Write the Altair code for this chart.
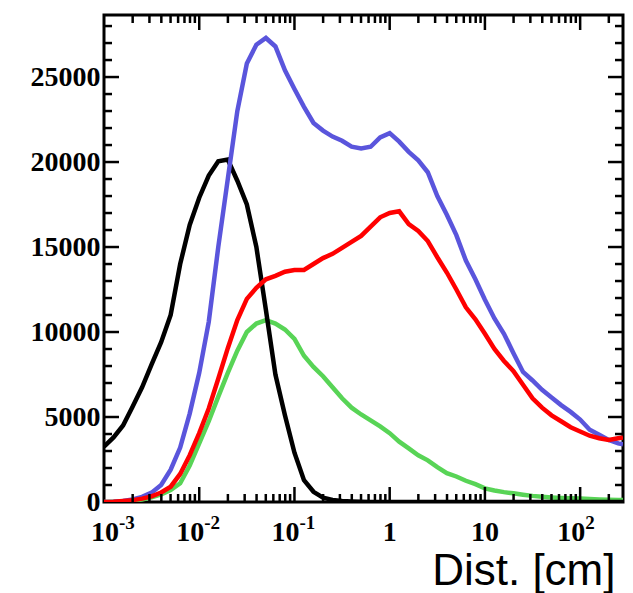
import altair as alt
import pandas as pd

# Histogram bin positions (log10 of distance in cm) and bin contents per sample
log_dist = [
    -3.0, -2.9, -2.8, -2.7, -2.6, -2.5, -2.4, -2.3, -2.2, -2.1,
    -2.0, -1.9, -1.8, -1.7, -1.6, -1.5, -1.4, -1.3, -1.2, -1.1,
    -1.0, -0.9, -0.8, -0.7, -0.6, -0.5, -0.4, -0.3, -0.2, -0.1,
    0.0, 0.1, 0.2, 0.3, 0.4, 0.5, 0.6, 0.7, 0.8, 0.9,
    1.0, 1.1, 1.2, 1.3, 1.4, 1.5, 1.6, 1.7, 1.8, 1.9,
    2.0, 2.1, 2.2, 2.3, 2.4, 2.45,
]

black_counts = [
    3250, 3800, 4500, 5600, 6750, 8100, 9400, 11000, 14000, 16300,
    17900, 19200, 20050, 20150, 18900, 17500, 15000, 11300, 7500, 5100,
    2900, 1280, 600, 250, 120, 60, 30, 10, 0, 0,
    0, 0, 0, 0, 0, 0, 0, 0, 0, 0,
    0, 0, 0, 0, 0, 0, 0, 0, 0, 0,
    0, 0, 0, 0, 0, 0,
]

blue_counts = [
    0, 20, 60, 150, 300, 550, 1000, 1900, 3200, 5200,
    7600, 10600, 15000, 19000, 23000, 25800, 26900, 27300, 26800, 25400,
    24300, 23250, 22300, 21850, 21500, 21250, 20900, 20800, 20900, 21450,
    21700, 21200, 20600, 20100, 19400, 18000, 16900, 15700, 14200, 13100,
    11900, 10800, 9900, 8750, 7650, 7150, 6600, 6150, 5700, 5300,
    4850, 4250, 3950, 3650, 3450, 3400,
]

red_counts = [
    0, 20, 60, 110, 200, 330, 560, 900, 1650, 2750,
    4050, 5500, 7250, 9050, 10700, 11950, 12600, 13100, 13300, 13550,
    13650, 13650, 14000, 14350, 14600, 14950, 15300, 15650, 16200, 16750,
    17000, 17100, 16350, 15950, 15350, 14400, 13500, 12500, 11450, 10750,
    9900, 9000, 8300, 7700, 6900, 6100, 5550, 5100, 4750, 4400,
    4150, 3900, 3750, 3650, 3750, 3800,
]

green_counts = [
    0, 10, 30, 70, 150, 280, 450, 700, 1100, 2150,
    3450, 4750, 6200, 7600, 8900, 10000, 10500, 10700, 10500, 10150,
    9600, 8600, 7950, 7400, 6750, 6100, 5550, 5150, 4800, 4450,
    4050, 3550, 3150, 2750, 2450, 2050, 1700, 1500, 1250, 1050,
    800, 680, 580, 510, 430, 360, 310, 270, 240, 220,
    200, 170, 150, 130, 120, 115,
]

series = [
    ("green", green_counts, "#58d456"),
    ("black", black_counts, "#000000"),
    ("blue", blue_counts, "#5a55dc"),
    ("red", red_counts, "#ff0000"),
]

# Axis tick labels
y_label_values = [0, 5000, 10000, 15000, 20000, 25000]
x_label_values = [0.001, 0.01, 0.1, 1, 10, 100]
x_label_base = ["10", "10", "10", "1", "10", "10"]
x_label_exp = ["-3", "-2", "-1", "", "", "2"]

rows = []
for name, counts, _ in series:
    for lg, c in zip(log_dist, counts):
        rows.append({"dist": 10 ** lg, "count": c, "series": name})
df = pd.DataFrame(rows)

W, H = 519, 487
X_MAX = 10 ** 2.45
xscale = alt.Scale(type="log", domain=[1e-3, X_MAX], nice=False)
yscale = alt.Scale(domain=[0, 28650], nice=False, zero=False)

SERIF = "Liberation Serif"
LABEL_SIZE = 28
EXP_SIZE = 19

# Shared axis definitions (identical in every layer so they merge cleanly)
yaxis = alt.Axis(
    values=y_label_values, format="d", labelFont=SERIF, labelFontWeight="bold",
    labelFontSize=LABEL_SIZE, labelColor="black", labelPadding=4, ticks=False,
    domain=False, grid=False, title=None, labelFlush=False, labelOverlap=False,
)
xaxis = alt.Axis(
    labels=False, ticks=False, domain=False, grid=False, title="Dist. [cm]",
    titleFont="Liberation Sans", titleFontSize=44, titleFontWeight="normal",
    titleColor="black", titleAnchor="end", titleAlign="right",
    titleX=511, titleY=82, titleBaseline="alphabetic",
)

layers = []
for name, _, color in series:
    layers.append(
        alt.Chart(df).transform_filter(alt.datum.series == name)
        .mark_line(color=color, strokeWidth=4.5, clip=True)
        .encode(
            x=alt.X("dist:Q", scale=xscale, axis=xaxis),
            y=alt.Y("count:Q", scale=yscale, axis=yaxis),
        )
    )

# Inward-pointing ticks on all four sides of the frame
y_ticks = pd.DataFrame({"v": list(range(1000, 28001, 1000))})
y_ticks["major"] = y_ticks["v"] % 5000 == 0
x_tick_vals = []
x_tick_major = []
for k in range(-3, 3):
    for m in range(1, 10):
        v = m * 10 ** k
        if 1e-3 < v < X_MAX:
            x_tick_vals.append(v)
            x_tick_major.append(m == 1)
x_ticks = pd.DataFrame({"v": x_tick_vals, "major": x_tick_major})

MAJ, MIN = 15, 8
for is_major, ln in [(True, MAJ), (False, MIN)]:
    sel = alt.datum.major if is_major else ~alt.datum.major
    for x0, x1 in [(0, ln), (W, W - ln)]:
        layers.append(
            alt.Chart(y_ticks).transform_filter(sel)
            .mark_rule(color="black", strokeWidth=2.5)
            .encode(y=alt.Y("v:Q", scale=yscale, axis=yaxis),
                    x=alt.value(x0), x2=alt.value(x1))
        )
    for y0, y1 in [(H, H - ln), (0, ln)]:
        layers.append(
            alt.Chart(x_ticks).transform_filter(sel)
            .mark_rule(color="black", strokeWidth=2.5)
            .encode(x=alt.X("v:Q", scale=xscale, axis=xaxis),
                    y=alt.value(y0), y2=alt.value(y1))
        )

# Log-axis labels drawn as base plus raised exponent
lab = pd.DataFrame({"v": x_label_values, "base": x_label_base, "exp": x_label_exp})
LAB_Y = H + 39


def base_text(filt, align, dx):
    return (
        alt.Chart(lab).transform_filter(filt)
        .mark_text(align=align, baseline="alphabetic", dx=dx, font=SERIF,
                   fontWeight="bold", fontSize=LABEL_SIZE, color="black")
        .encode(x=alt.X("v:Q", scale=xscale, axis=xaxis),
                y=alt.value(LAB_Y), text="base:N")
    )


def exp_text(filt, dx):
    return (
        alt.Chart(lab).transform_filter(filt)
        .mark_text(align="left", baseline="alphabetic", dx=dx, dy=-12,
                   font=SERIF, fontWeight="bold", fontSize=EXP_SIZE, color="black")
        .encode(x=alt.X("v:Q", scale=xscale, axis=xaxis),
                y=alt.value(LAB_Y), text="exp:N")
    )


has_exp = alt.datum.exp != ""
first = alt.datum.v == 0.001
layers += [
    base_text(has_exp & ~first, "right", 5),
    base_text(first, "right", 15),
    base_text(~has_exp, "center", 0),
    exp_text(has_exp & ~first, 5),
    exp_text(first, 15),
]

chart = (
    alt.layer(*layers)
    .properties(
        width=W, height=H,
        autosize=alt.AutoSizeParams(type="none"),
        padding={"left": 104, "top": 15, "right": 10, "bottom": 91},
        background="white",
    )
    .configure_view(stroke="black", strokeWidth=3)
)

chart.save("out.html", embed_options={"renderer": "svg", "actions": False})
